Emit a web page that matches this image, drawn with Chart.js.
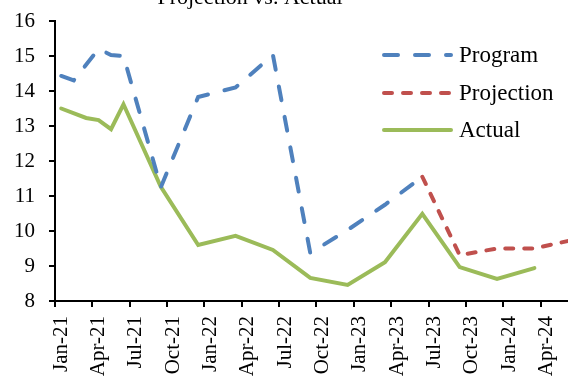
<!DOCTYPE html>
<html>
<head>
<meta charset="utf-8">
<script src="https://cdn.jsdelivr.net/npm/chart.js@4/dist/chart.umd.min.js"></script>
<style>
    html, body { margin: 0; padding: 0; background: #fff; }
    #wrap { width: 568px; height: 379px; position: relative; overflow: hidden; }
</style>
</head>
<body>
<div id="wrap"><canvas id="projChart"></canvas></div>
<script>
// months Jan-21 .. Jun-24
const months = [
    'Jan-21', 'Feb-21', 'Mar-21', 'Apr-21', 'May-21', 'Jun-21', 'Jul-21', 'Aug-21', 'Sep-21', 'Oct-21', 'Nov-21', 'Dec-21',
    'Jan-22', 'Feb-22', 'Mar-22', 'Apr-22', 'May-22', 'Jun-22', 'Jul-22', 'Aug-22', 'Sep-22', 'Oct-22', 'Nov-22', 'Dec-22',
    'Jan-23', 'Feb-23', 'Mar-23', 'Apr-23', 'May-23', 'Jun-23', 'Jul-23', 'Aug-23', 'Sep-23', 'Oct-23', 'Nov-23', 'Dec-23',
    'Jan-24', 'Feb-24', 'Mar-24', 'Apr-24', 'May-24', 'Jun-24'
];

const program = [
    14.43, 14.3, null, 15.2, 15.03, 15.0, null, null, 11.25, null, null, 13.83,
    null, null, 14.1, null, null, 15.03, null, null, 9.37, null, null, 10.03,
    null, null, 10.75, null, null, 11.55, null, null, null, null, null, null,
    null, null, null, null, null, null
];

const projection = [
    null, null, null, null, null, null, null, null, null, null, null, null,
    null, null, null, null, null, null, null, null, null, null, null, null,
    null, null, null, null, null, 11.55, null, null, 9.31, null, null, 9.5,
    null, null, 9.5, null, null, 9.74
];

const actual = [
    13.5, null, 13.23, 13.17, 12.91, 13.62, null, null, 11.26, null, null, 9.6,
    null, null, 9.86, null, null, 9.46, null, null, 8.66, null, null, 8.46,
    null, null, 9.11, null, null, 10.49, null, null, 8.97, null, null, 8.63,
    null, null, 8.94, null, null, null
];

const FONT = '"Liberation Serif", "DejaVu Serif", serif';

// points sit in the middle of each month
function toPoints(values) {
    return values.map(function (v, i) { return { x: i + 0.5, y: v }; });
}

// legend + cut-off title drawn by hand
const legendPlugin = {
    id: 'handLegend',
    afterDraw: function (chart) {
        const ctx = chart.ctx;
        ctx.save();
        ctx.fillStyle = '#000';
        ctx.font = '22px ' + FONT;
        ctx.textAlign = 'center';
        ctx.textBaseline = 'alphabetic';
        ctx.fillText('Projection vs. Actual', 250, 4);

        const rows = [55, 93, 130];
        chart.data.datasets.forEach(function (ds, i) {
            const y = rows[i];
            ctx.beginPath();
            ctx.strokeStyle = ds.borderColor;
            ctx.lineWidth = ds.borderWidth;
            ctx.lineCap = ds.borderCapStyle || 'butt';
            ctx.setLineDash(ds.borderDash || []);
            ctx.moveTo(384, y);
            ctx.lineTo(451, y);
            ctx.stroke();
            ctx.setLineDash([]);
            ctx.fillStyle = '#000';
            ctx.font = '23px ' + FONT;
            ctx.textAlign = 'left';
            ctx.textBaseline = 'middle';
            ctx.fillText(ds.label, 459, y + 1);
        });
        ctx.restore();
    }
};

const projCtx = document.getElementById('projChart').getContext('2d');
const projChart = new Chart(projCtx, {
    type: 'line',
    data: {
        datasets: [
            {
                label: 'Program',
                data: toPoints(program),
                borderColor: '#4F81BD',
                borderWidth: 4,
                borderDash: [14, 17],
                borderCapStyle: 'round',
                pointRadius: 0,
                spanGaps: true,
                tension: 0
            },
            {
                label: 'Projection',
                data: toPoints(projection),
                borderColor: '#C0504D',
                borderWidth: 4,
                borderDash: [8, 11],
                borderCapStyle: 'round',
                pointRadius: 0,
                spanGaps: true,
                tension: 0
            },
            {
                label: 'Actual',
                data: toPoints(actual),
                borderColor: '#9BBB59',
                borderWidth: 4,
                borderCapStyle: 'round',
                pointRadius: 0,
                spanGaps: true,
                tension: 0
            }
        ]
    },
    options: {
        responsive: true,
        maintainAspectRatio: false,
        animation: false,
        layout: {
            padding: { top: 21, right: 0, bottom: 0, left: 0 }
        },
        plugins: {
            legend: { display: false },
            tooltip: { enabled: false }
        },
        scales: {
            x: {
                type: 'linear',
                min: 0,
                max: 41.2,
                afterFit: function (scale) {
                    scale.height = 78;
                    scale.paddingRight = 0;
                    scale.paddingLeft = 0;
                },
                border: { color: '#000', width: 2 },
                grid: {
                    drawOnChartArea: false,
                    drawTicks: true,
                    tickLength: 6,
                    color: '#000',
                    lineWidth: 2
                },
                ticks: {
                    stepSize: 3,
                    includeBounds: false,
                    autoSkip: false,
                    maxRotation: 90,
                    minRotation: 90,
                    labelOffset: 6,
                    padding: 9,
                    color: '#000',
                    font: { family: FONT, size: 21 },
                    callback: function (value) {
                        return months[value] || '';
                    }
                }
            },
            y: {
                min: 8,
                max: 16,
                afterFit: function (scale) {
                    scale.width = 55;
                    scale.paddingTop = 0;
                    scale.paddingBottom = 0;
                },
                border: { color: '#000', width: 2 },
                grid: {
                    drawOnChartArea: false,
                    drawTicks: true,
                    tickLength: 6,
                    color: '#000',
                    lineWidth: 2
                },
                ticks: {
                    stepSize: 1,
                    padding: 14,
                    color: '#000',
                    font: { family: FONT, size: 21 }
                }
            }
        }
    },
    plugins: [legendPlugin]
});
</script>
</body>
</html>
